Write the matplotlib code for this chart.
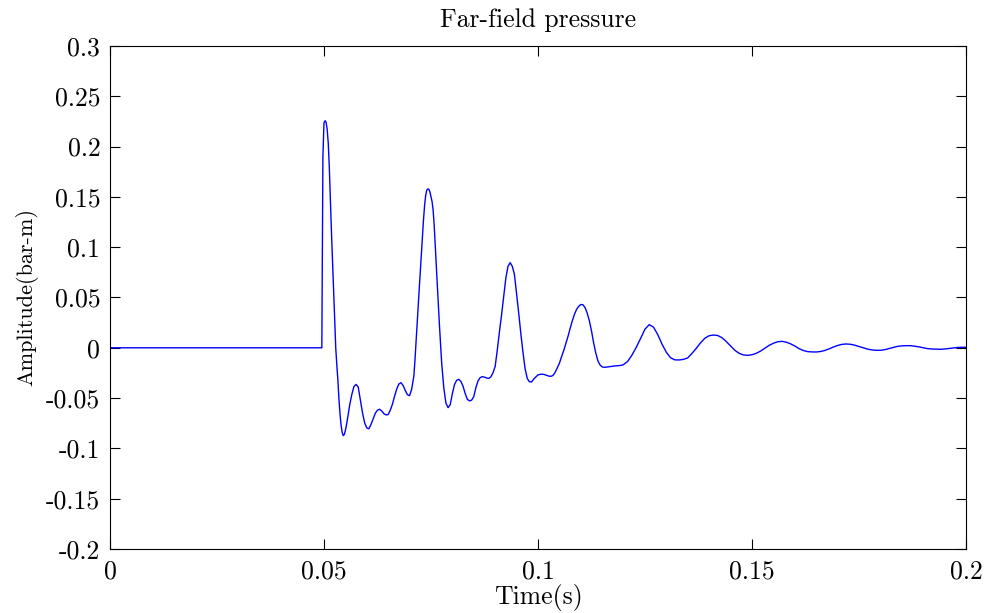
import numpy as np
import matplotlib
matplotlib.use("Agg")
import matplotlib.pyplot as plt

# far-field pressure signature (time in ms)
time_ms = [0, 49.5, 49.75, 50.0, 50.25, 50.5, 50.75, 51.0, 51.25, 51.5, 51.75,
           52.0, 52.25, 52.5, 52.75, 53.0, 53.25, 53.5, 53.75, 54.0, 54.25,
           54.5, 54.75, 55.0, 55.25, 55.5, 55.75, 56.0,
           56.5, 57.0, 57.5, 58.0, 58.5, 59.0, 59.5, 60.0, 60.5, 61.0, 61.5,
           62.0, 62.5, 63.0, 63.5, 64.0, 64.5, 65.0, 65.5, 66.0, 66.5, 67.0,
           67.5, 68.0, 68.5, 69.0, 69.5, 70.0, 70.5, 71.0,
           71.25, 71.5, 71.75, 72.0, 72.25, 72.5, 72.75, 73.0, 73.25, 73.5,
           73.75, 74.0, 74.25, 74.5, 74.75, 75.0, 75.25, 75.5, 75.75, 76.0,
           76.25, 76.5, 76.75, 77.0,
           77.5, 78.0, 78.5, 79.0, 79.5, 80.0, 80.5, 81.0, 81.5, 82.0, 82.5,
           83.0, 83.5, 84.0, 84.5, 85.0, 85.5, 86.0, 86.5, 87.0, 87.5, 88.0,
           88.5, 89.0, 89.5, 90.0, 90.5, 91.0, 91.5, 92.0, 92.5, 93.0, 93.5,
           94.0, 94.5, 95.0, 95.5, 96.0, 96.5, 97.0, 97.5, 98.0, 98.5, 99.0,
           99.5, 100.0, 100.5, 101.0, 101.5, 102.0, 102.5, 103.0, 103.5,
           104.0, 104.5, 105.0, 105.5, 106.0, 106.5, 107.0, 107.5, 108.0,
           108.5, 109.0, 109.5, 110.0, 110.5, 111.0, 111.5, 112.0, 112.5,
           113.0, 113.5, 114.0, 114.5, 115.0, 115.5, 116.0, 116.5, 117.0,
           117.5, 118.0, 118.5, 119.0, 119.5, 120.0,
           121, 122, 123, 124, 125, 126, 127, 128, 129, 130, 131, 132, 133,
           134, 135, 136, 137, 138, 139, 140, 141, 142, 143, 144, 145, 146,
           147, 148, 149, 150, 151, 152, 153, 154, 155, 156, 157, 158, 159,
           160, 161, 162, 163, 164, 165, 166, 167, 168, 169, 170, 171, 172,
           173, 174, 175, 176, 177, 178, 179, 180, 181, 182, 183, 184, 185,
           186, 187, 188, 189, 190, 191, 192, 193, 194, 195, 196, 197, 198,
           199, 200]
amplitude = [0.0, 0.0, 0.19, 0.2235, 0.2257, 0.2242, 0.2170, 0.2036, 0.179,
             0.146, 0.115, 0.086, 0.056, 0.028, 0.000, -0.017, -0.032,
             -0.051, -0.066, -0.077, -0.084, -0.0873, -0.0862, -0.0822,
             -0.0768, -0.0705, -0.064, -0.057,
             -0.0465, -0.0385, -0.0364, -0.039, -0.052, -0.0645, -0.0745,
             -0.0797, -0.0805, -0.0760, -0.0705, -0.0650, -0.0620, -0.0611,
             -0.0628, -0.0655, -0.0667, -0.0664, -0.0620, -0.0560, -0.0480,
             -0.0410, -0.0360, -0.0347, -0.0375, -0.0425, -0.0466, -0.0476,
             -0.0410, -0.0280,
             -0.0130, 0.0050, 0.0225, 0.0400, 0.0580, 0.0750, 0.0920, 0.1100,
             0.1270, 0.1410, 0.1510, 0.1565, 0.1578, 0.1577, 0.1550, 0.1500,
             0.1455, 0.1370, 0.1220, 0.1010, 0.0800, 0.0610, 0.0410, 0.0210,
             -0.0150, -0.0400, -0.0550, -0.0595, -0.0565, -0.0455, -0.0365,
             -0.0323, -0.0313, -0.0335, -0.0383, -0.0455, -0.0512, -0.0528,
             -0.0520, -0.0485, -0.0395, -0.0328, -0.0296, -0.0287, -0.0292,
             -0.0300, -0.0305, -0.0288, -0.0248, -0.0185, -0.0020, 0.0160,
             0.0330, 0.0515, 0.0695, 0.0810, 0.0846, 0.0810, 0.0730, 0.0540,
             0.0345, 0.0140, -0.0045, -0.0210, -0.0305, -0.0338, -0.0340,
             -0.0312, -0.0290, -0.0270, -0.0264, -0.0262, -0.0266, -0.0274,
             -0.0281, -0.0284, -0.0275, -0.0245, -0.0200, -0.0155, -0.0090,
             -0.0030, 0.0040, 0.0110, 0.0190, 0.0265, 0.0330, 0.0380, 0.0412,
             0.0430, 0.0428, 0.0400, 0.0345, 0.0270, 0.0170, 0.0050, -0.0050,
             -0.0130, -0.0170, -0.0190, -0.0194, -0.0192, -0.0189, -0.0186,
             -0.0183, -0.0180, -0.0179, -0.0177, -0.0174, -0.0167,
             -0.0133, -0.0070, 0.0008, 0.0095, 0.0185, 0.0230, 0.0205, 0.0130,
             0.0035, -0.0045, -0.0100, -0.0120, -0.0121, -0.0115, -0.0100,
             -0.0055, -0.0005, 0.0050, 0.0095, 0.0120, 0.0127, 0.0122, 0.0100,
             0.0062, 0.0018, -0.0025, -0.0055, -0.0071, -0.0075, -0.0069,
             -0.0055, -0.0033, -0.0005, 0.0024, 0.0045, 0.0060, 0.0064,
             0.0056, 0.0040, 0.0018, -0.0008, -0.0027, -0.0038, -0.0041,
             -0.0042, -0.0037, -0.0027, -0.0011, 0.0007, 0.0023, 0.0034,
             0.0038, 0.0035, 0.0026, 0.0013, 0.0000, -0.0013, -0.0021,
             -0.0025, -0.0025, -0.0019, -0.0008, 0.0004, 0.0014, 0.0019,
             0.0021, 0.0021, 0.0016, 0.0009, 0.0000, -0.0008, -0.0012,
             -0.0014, -0.0015, -0.0012, -0.0007, -0.0001, 0.0003, 0.0005,
             0.0005]

xticks = [0, 0.05, 0.1, 0.15, 0.2]
xtick_labels = ["0", "0.05", "0.1", "0.15", "0.2"]
yticks = [-0.2, -0.15, -0.1, -0.05, 0, 0.05, 0.1, 0.15, 0.2, 0.25, 0.3]
ytick_labels = ["-0.2", "-0.15", "-0.1", "-0.05", "0", "0.05", "0.1",
                "0.15", "0.2", "0.25", "0.3"]

plt.rcParams['font.family'] = 'serif'
plt.rcParams['font.serif'] = ['cmr10', 'DejaVu Serif']
plt.rcParams['axes.unicode_minus'] = False

fig = plt.figure(figsize=(9.89, 6.13), dpi=100)
ax = fig.add_axes([0.1112, 0.1044, 0.8655, 0.8206])

t = np.array(time_ms) / 1000.0
ax.plot(t, amplitude, color=(0, 0, 1), linewidth=1.0)

ax.set_xlim(0, 0.2)
ax.set_ylim(-0.2, 0.3)
ax.set_xticks(xticks)
ax.set_xticklabels(xtick_labels)
ax.set_yticks(yticks)
ax.set_yticklabels(ytick_labels)
ax.tick_params(direction='in', length=7, width=0.8, top=True, right=True,
               labelsize=18.5)
ax.tick_params(axis='x', pad=8)
ax.tick_params(axis='y', pad=7)
for s in ax.spines.values():
    s.set_linewidth(0.8)

ax.set_title("Far-field pressure", fontsize=18.5, pad=14)
ax.set_xlabel("Time(s)", fontsize=18.5, labelpad=0)
ax.set_ylabel("Amplitude(bar-m)", fontsize=16, labelpad=6)

fig.savefig("out.png", dpi=100)
